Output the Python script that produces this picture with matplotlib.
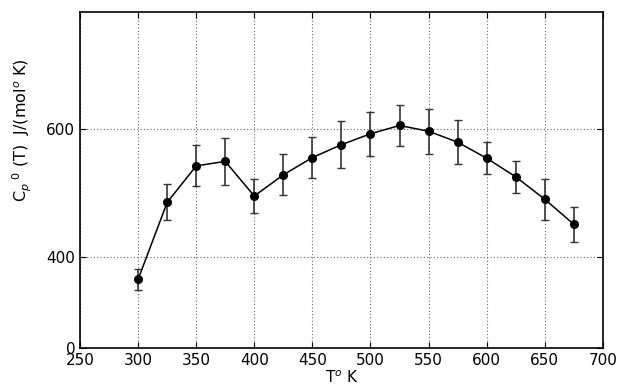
import matplotlib.pyplot as plt
import numpy as np

# temperature (K)
temps = [300, 325, 350, 375, 400, 425, 450, 475, 500, 525, 550, 575, 600, 625, 650, 675]
# heat capacity values
cp = [365, 485, 542, 549, 495, 528, 555, 575, 592, 605, 596, 579, 554, 525, 490, 451]
# error bar half-widths
cp_err = [17, 28, 32, 37, 26, 32, 32, 37, 34, 32, 35, 34, 25, 25, 32, 27]

xtick_vals = [250, 300, 350, 400, 450, 500, 550, 600, 650, 700]
ytick_vals = [258, 400, 600]
ytick_labels = ["0", "400", "600"]

fig = plt.figure(figsize=(6.17, 3.85), dpi=100)
ax = fig.add_axes([0.1297, 0.096, 0.8473, 0.873])

ax.errorbar(temps, cp, yerr=cp_err, fmt="o-", color="black", ecolor="#333333",
            elinewidth=1.2, capsize=2.8, capthick=1.0, markersize=5.5, linewidth=1.1)

ax.set_xlim(250, 700)
ax.set_ylim(258, 782)
ax.set_xticks(xtick_vals)
ax.set_yticks(ytick_vals)
ax.set_yticklabels(ytick_labels)

ax.grid(True, linestyle=(0, (1, 2)), color="#666666", linewidth=0.8)
ax.tick_params(direction="in", top=True, right=True, labelsize=11, length=4)
for s in ax.spines.values():
    s.set_linewidth(1.2)

ax.set_xlabel("T$^o$ K", fontsize=11, labelpad=1)
ax.set_ylabel("C$_p$$^{\\ 0}$ (T)  J/(mol$^o$ K)", fontsize=11.5)
ax.yaxis.set_label_coords(-0.088, 0.65)

plt.savefig("out.png", dpi=100)
